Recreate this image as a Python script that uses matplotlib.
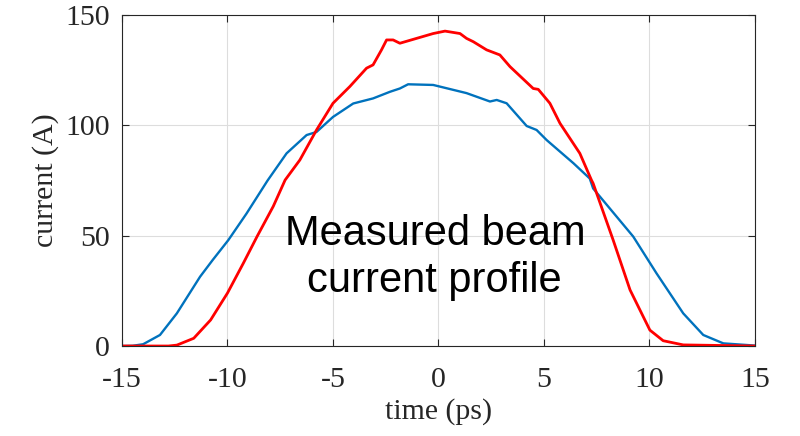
import matplotlib.pyplot as plt
import numpy as np

# blue trace (time in ps, current in A)
t_blue = [-15, -14.5, -14.0, -13.2, -12.4, -11.3, -10.7, -9.96, -9.1, -8.1, -7.2,
          -6.25, -5.78, -5.0, -4.04, -3.1, -2.3, -1.83, -1.44, -0.25, 1.33, 2.44,
          2.76, 3.23, 4.18, 4.65, 5.13, 6.4, 7.17, 7.33, 9.23, 10.33, 11.6, 12.55,
          13.5, 15]
i_blue = [0, 0.1, 0.8, 5, 14.8, 31.4, 39, 48, 60, 75, 87.3,
          95.6, 97, 103.8, 109.9, 112.2, 115.2, 116.7, 118.6, 118.3, 114.6, 110.8,
          111.5, 110, 99.7, 97.9, 93.3, 82.8, 75.9, 71.4, 49.6, 33, 14.8, 5,
          1.2, 0.2]

# red trace
t_red = [-15, -12.8, -12.4, -11.6, -10.8, -10.0, -9.25, -8.6, -7.83, -7.27, -6.57,
         -5.78, -5.0, -4.2, -3.41, -3.1, -2.7, -2.46, -2.15, -1.83, -1.04, -0.25,
         0.31, 1.02, 1.33, 1.65, 2.28, 2.91, 3.39, 4.49, 4.73, 5.28, 5.76, 6.7,
         7.25, 7.33, 8.28, 9.08, 10.02, 10.65, 11.6, 15]
i_red = [0, 0, 0.4, 3.5, 11.8, 24, 37.5, 49.6, 63.3, 75.2, 84.3,
         97.9, 110, 117.6, 125.9, 127.4, 134.2, 138.7, 138.7, 137.2, 139.4, 141.6,
         142.7, 141.6, 139.4, 137.9, 134.2, 131.9, 126.6, 116.7, 116.3, 110, 100.9, 87.3,
         75.2, 73.7, 48, 25.4, 7.2, 2.4, 0.5, 0]

xticks = [-15, -10, -5, 0, 5, 10, 15]
yticks = [0, 50, 100, 150]

fig = plt.figure(figsize=(8, 4.36), dpi=100)
ax = fig.add_axes([0.1525, 0.2064, 0.7912, 0.7592])

ax.plot(t_blue, i_blue, color="#0072BD", linewidth=1.7)
ax.plot(t_red, i_red, color="#FF0000", linewidth=2.0)

ax.set_xlim(-15, 15)
ax.set_ylim(0, 150)
ax.set_xticks(xticks)
ax.set_yticks(yticks)
ax.grid(True, color="#dddddd", linewidth=0.8)
ax.set_axisbelow(True)

tick_font = {"family": "Liberation Serif", "size": 21.5, "color": "#262626"}
ax.set_xticklabels([str(v) for v in xticks], fontdict=tick_font)
ax.set_yticklabels([str(v) for v in yticks], fontdict=tick_font)
ax.tick_params(axis="x", pad=15)
ax.tick_params(axis="y", pad=9)
ax.tick_params(direction="in", top=True, right=True, length=5, color="#262626")
for s in ax.spines.values():
    s.set_color("#262626")
    s.set_linewidth(0.8)

ax.set_xlabel("time (ps)", fontdict=tick_font, labelpad=4)
ax.set_ylabel("current (A)", fontdict=tick_font, labelpad=4)

ax.text(-0.15, 45.8, "Measured beam", ha="center", va="baseline",
        family="Liberation Sans", fontsize=30)
ax.text(-0.2, 24.5, "current profile", ha="center", va="baseline",
        family="Liberation Sans", fontsize=30)

fig.savefig("out.png", dpi=100)
